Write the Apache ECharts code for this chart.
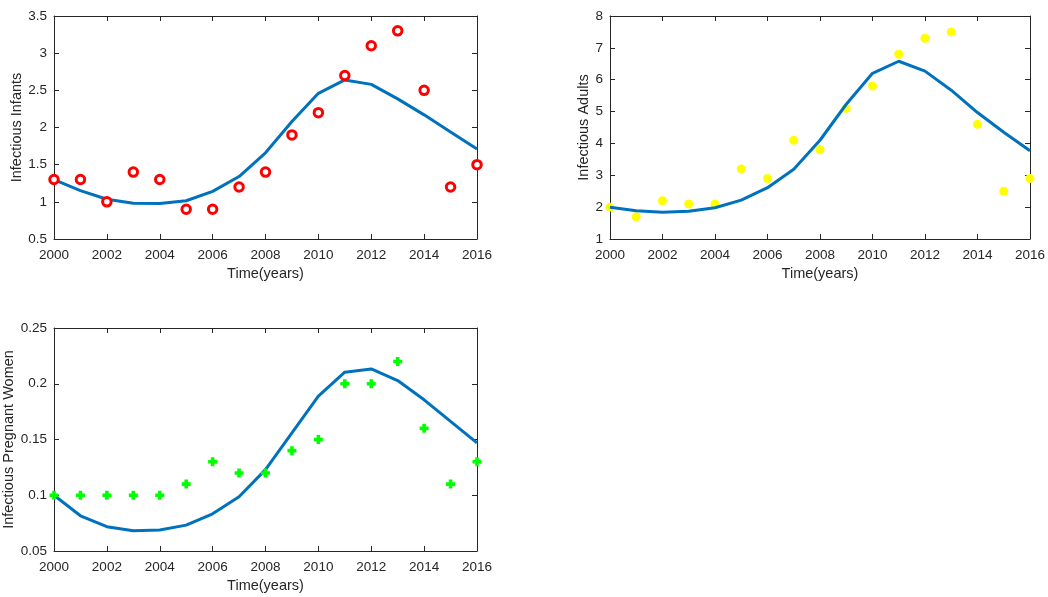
<!DOCTYPE html>
<html>
<head>
<meta charset="utf-8">
<script src="https://cdn.jsdelivr.net/npm/echarts@6/dist/echarts.min.js"></script>
<style>html,body{margin:0;padding:0;background:#fff}#c{width:1048px;height:597px}</style>
</head>
<body>
<div id="c"></div>
<script>
var years = [2000,2001,2002,2003,2004,2005,2006,2007,2008,2009,2010,2011,2012,2013,2014,2015,2016];
var infantsData = [1.3,1.3,1.0,1.4,1.3,0.9,0.9,1.2,1.4,1.9,2.2,2.7,3.1,3.3,2.5,1.2,1.5];
var infantsModel = [1.30,1.15,1.035,0.98,0.978,1.015,1.14,1.34,1.66,2.08,2.46,2.64,2.58,2.385,2.17,1.94,1.71];
var adultsData = [2.0,1.7,2.2,2.1,2.1,3.2,2.9,4.1,3.8,5.1,5.8,6.8,7.3,7.5,4.6,2.5,2.9];
var adultsModel = [2.0,1.89,1.84,1.87,1.98,2.22,2.61,3.19,4.1,5.23,6.2,6.58,6.27,5.67,4.97,4.35,3.77];
var pregData = [0.10,0.10,0.10,0.10,0.10,0.11,0.13,0.12,0.12,0.14,0.15,0.20,0.20,0.22,0.16,0.11,0.13];
var pregModel = [0.100,0.0816,0.0718,0.0682,0.0688,0.0732,0.0834,0.0986,0.123,0.156,0.189,0.2104,0.2133,0.2029,0.1856,0.1662,0.1469];
var xTitle = 'Time(years)';
var yTitles = ['Infectious Infants','Infectious Adults','Infectious Pregnant Women'];

function pairs(v){ return years.map(function(y,i){ return [y, v[i]]; }); }

var txt = '#262626';
var font = 'Liberation Sans, Arial, Helvetica, sans-serif';
var grids = [
  {left:54, top:16, width:423, height:223},
  {left:610, top:16, width:423, height:223},
  {left:54, top:328, width:423, height:223}
];
var yRanges = [[0.5,3.5,0.5],[1,8,1],[0.05,0.25,0.05]];
var yGaps = [28,17,33];

var xAxes = [], yAxes = [];
grids.forEach(function(g, i){
  xAxes.push({
    type:'value', gridIndex:i, min:2000, max:2016, interval:2, position:'bottom',
    name:xTitle, nameLocation:'middle', nameGap:27,
    nameTextStyle:{color:txt, fontSize:14.5, fontFamily:font},
    axisLine:{show:true, lineStyle:{color:txt, width:1}},
    axisTick:{show:true, inside:true, length:5, lineStyle:{color:txt}},
    axisLabel:{color:txt, fontSize:13.5, fontFamily:font, margin:9,
      formatter:function(v){ return String(v); }},
    splitLine:{show:false}
  });
  xAxes.push({
    type:'value', gridIndex:i, min:2000, max:2016, interval:2, position:'top',
    axisLine:{show:true, lineStyle:{color:txt, width:1}},
    axisTick:{show:true, inside:true, length:5, lineStyle:{color:txt}},
    axisLabel:{show:false}, splitLine:{show:false}
  });
  var r = yRanges[i];
  yAxes.push({
    type:'value', gridIndex:i, min:r[0], max:r[1], interval:r[2], position:'left',
    name:yTitles[i], nameLocation:'middle', nameGap:yGaps[i],
    nameTextStyle:{color:txt, fontSize:14.5, fontFamily:font},
    axisLine:{show:true, lineStyle:{color:txt, width:1}},
    axisTick:{show:true, inside:true, length:5, lineStyle:{color:txt}},
    axisLabel:{color:txt, fontSize:13.5, fontFamily:font, margin:7,
      formatter:function(v){ return String(+v.toFixed(4)); }},
    splitLine:{show:false}
  });
  yAxes.push({
    type:'value', gridIndex:i, min:r[0], max:r[1], interval:r[2], position:'right',
    axisLine:{show:true, lineStyle:{color:txt, width:1}},
    axisTick:{show:true, inside:true, length:5, lineStyle:{color:txt}},
    axisLabel:{show:false}, splitLine:{show:false}
  });
});

var blue = '#0072BD';
var plusPath = 'path://M-1.2,-3L1.2,-3L1.2,-1.2L3,-1.2L3,1.2L1.2,1.2L1.2,3L-1.2,3L-1.2,1.2L-3,1.2L-3,-1.2L-1.2,-1.2Z';

var option = {
  animation:false,
  backgroundColor:'#fff',
  grid: grids,
  xAxis: xAxes,
  yAxis: yAxes,
  series: [
    {type:'line', xAxisIndex:0, yAxisIndex:0, data:pairs(infantsModel), showSymbol:false, symbol:'none',
     lineStyle:{color:blue, width:3}, z:2},
    {type:'scatter', xAxisIndex:0, yAxisIndex:0, data:pairs(infantsData), symbol:'circle', symbolSize:8.5,
     itemStyle:{color:'#ffffff', borderColor:'#ff0000', borderWidth:3, opacity:1}, z:3},
    {type:'scatter', xAxisIndex:2, yAxisIndex:2, data:pairs(adultsData), symbol:'circle', symbolSize:9,
     itemStyle:{color:'#ffff00', opacity:1}, z:2},
    {type:'line', xAxisIndex:2, yAxisIndex:2, data:pairs(adultsModel), showSymbol:false, symbol:'none',
     lineStyle:{color:blue, width:3}, z:3},
    {type:'line', xAxisIndex:4, yAxisIndex:4, data:pairs(pregModel), showSymbol:false, symbol:'none',
     lineStyle:{color:blue, width:3}, z:2},
    {type:'scatter', xAxisIndex:4, yAxisIndex:4, data:pairs(pregData), symbol:plusPath, symbolSize:9,
     itemStyle:{color:'#00ff00', opacity:1}, z:3}
  ]
};
var chart = echarts.init(document.getElementById('c'), null, {renderer:'canvas'});
chart.setOption(option);
</script>
</body>
</html>
